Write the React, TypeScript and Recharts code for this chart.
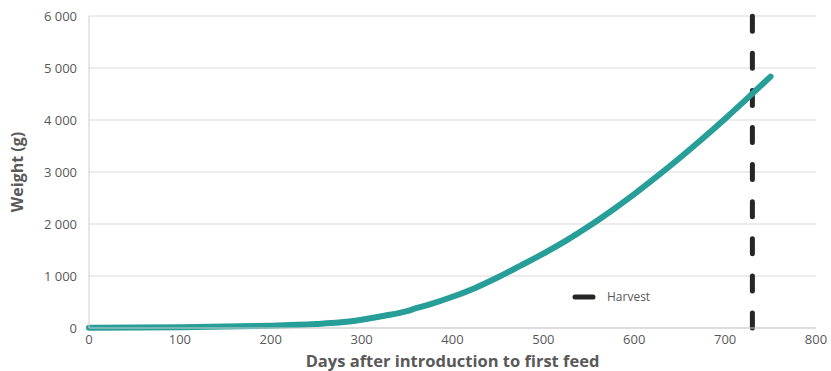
import { LineChart, Line, XAxis, YAxis, CartesianGrid, ReferenceLine } from 'recharts';

const days = [0, 50, 100, 150, 200, 250, 275, 300, 325, 350, 360, 365, 375, 400, 425, 450, 475, 500, 525, 550, 575, 600, 625, 650, 675, 700, 725, 750];
const weights = [3, 8, 15, 28, 45, 78, 105, 160, 235, 325, 380, 405, 455, 600, 770, 975, 1200, 1430, 1680, 1955, 2255, 2575, 2915, 3270, 3640, 4025, 4425, 4835];

const xTicks = [0, 100, 200, 300, 400, 500, 600, 700, 800];
const yTicks = [0, 1000, 2000, 3000, 4000, 5000, 6000];
const harvestDay = 730;

const data = days.map((d, i) => ({ day: d, weight: weights[i] }));

const FONT = '"Open Sans", "DejaVu Sans", sans-serif';

const formatThousands = (v: number) => v.toString().replace(/\B(?=(\d{3})+(?!\d))/g, ' ');

const HarvestLegend = () => (
  <div
    style={{
      position: 'absolute',
      left: 570,
      top: 288,
      display: 'flex',
      alignItems: 'center',
      fontFamily: FONT,
      fontSize: 12,
      color: '#595959',
    }}
  >
    <svg width={28} height={16}>
      <line x1={5} y1={8} x2={23} y2={8} stroke="#262626" strokeWidth={5} strokeLinecap="round" />
    </svg>
    <span style={{ marginLeft: 9 }}>Harvest</span>
  </div>
);

const App = () => {
  return (
    <div style={{ position: 'absolute', left: 0, top: 0, width: 831, height: 371, background: '#fff' }}>
      <LineChart width={831} height={371} data={data} margin={{ top: 16, right: 15, bottom: 13, left: 0 }}>
        <CartesianGrid horizontal vertical={false} stroke="#d9d9d9" />
        <XAxis
          dataKey="day"
          type="number"
          domain={[0, 800]}
          ticks={xTicks}
          tickLine={false}
          tickSize={0}
          tickMargin={7}
          axisLine={{ stroke: '#cfcfcf' }}
          tick={{ fill: '#595959', fontSize: 13, fontFamily: FONT }}
          label={{ value: 'Days after introduction to first feed', position: 'insideBottom', offset: -9, fill: '#595959', fontSize: 16.5, fontWeight: 'bold', fontFamily: FONT }}
        />
        <YAxis
          type="number"
          domain={[0, 6000]}
          ticks={yTicks}
          width={89}
          tickLine={false}
          tickSize={0}
          tickMargin={12}
          axisLine={{ stroke: '#cfcfcf' }}
          tickFormatter={formatThousands}
          tick={{ fill: '#595959', fontSize: 13, fontFamily: FONT }}
          label={{ value: 'Weight (g)', angle: -90, position: 'insideLeft', offset: 17, style: { textAnchor: 'middle' }, fill: '#595959', fontSize: 16, fontWeight: 'bold', fontFamily: FONT }}
        />
        <ReferenceLine
          x={harvestDay}
          stroke="#262626"
          strokeWidth={5}
          strokeDasharray="15 22.1"
          strokeLinecap="round"
        />
        <Line
          type="monotone"
          dataKey="weight"
          stroke="#279e98"
          strokeWidth={6}
          strokeLinecap="round"
          dot={false}
          isAnimationActive={false}
        />
      </LineChart>
      <HarvestLegend />
    </div>
  );
};

export default App;
